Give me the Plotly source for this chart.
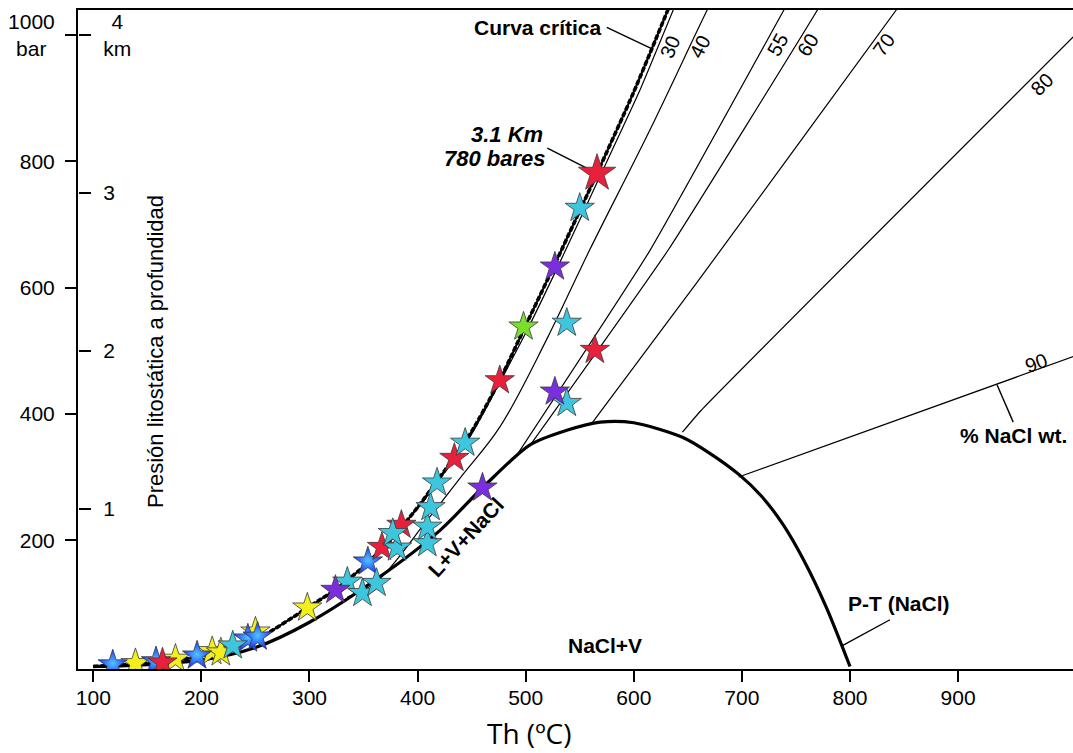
import plotly.graph_objects as go

# --- curves (Th in ºC, P in bar) ---
crit_t = [100, 150, 200, 250, 300, 325, 350, 375, 400, 425, 450, 475, 500, 530, 566, 600, 640]
crit_p = [0, 5, 16, 42, 95, 123, 158, 200, 252, 310, 372, 450, 540, 648, 781, 910, 1075]

iso30_t = [350, 400, 450, 500, 530, 570, 605, 645]
iso30_p = [158, 250, 368, 528, 634, 781, 910, 1075]
iso40_t = [335, 362, 409, 440, 476, 520, 559, 615, 668, 680]
iso40_p = [110, 134, 232, 300, 379, 520, 659, 850, 1040, 1080]
iso55_t = [490, 615, 739, 752]
iso55_p = [330, 659, 1040, 1080]
iso60_t = [504, 632, 770, 783]
iso60_p = [350, 660, 1040, 1080]
iso70_t = [562, 658, 843, 860]
iso70_p = [387, 607, 1040, 1080]
iso80_t = [645, 662, 1010]
iso80_p = [371, 405, 1003]
iso90_t = [697, 1020]
iso90_p = [300, 499]

# L+V+NaCl curve and the NaCl+V dome down to halite melting
lvh_t = [100, 150, 200, 250, 300, 365, 421, 460, 504, 538, 569, 600, 645, 670, 698, 718, 738, 757, 778, 800]
lvh_p = [0, 3, 10, 30, 70, 142, 216, 283, 351, 374, 387, 386, 363, 338, 303, 270, 225, 169, 94, 0]

# --- fluid inclusion data (stars) ---
star_t = [139, 176, 210, 218, 250, 118, 158, 196, 243, 252, 164, 229,
          298, 324, 335, 349, 362, 354, 367, 381, 377, 385, 409, 409, 412, 418,
          460, 434, 444, 476, 527, 498, 538, 564, 527, 538, 550]
star_p = [5, 12, 24, 22, 55, 3, 8, 17, 44, 47, 6, 33,
          93, 121, 134, 116, 132, 166, 189, 188, 211, 224, 195, 221, 252, 291,
          283, 330, 354, 453, 633, 538, 544, 501, 435, 417, 726]
star_kind = ['yellow', 'yellow', 'yellow', 'yellow', 'yellow', 'blue', 'blue', 'blue', 'blue', 'blue', 'red', 'cyan',
             'yellow', 'purple', 'cyan', 'cyan', 'cyan', 'blue', 'red', 'cyan', 'cyan', 'red', 'cyan', 'cyan', 'cyan', 'cyan',
             'purple', 'red', 'cyan', 'red', 'purple', 'green', 'cyan', 'red', 'purple', 'cyan', 'cyan']
key_t = [566]
key_p = [781]

bar_ticks = [200, 400, 600, 800, 1000]
bar_text = ['200', '400', '600', '800', '1000<br>bar\u2009\u2009']
km_ticks = [250, 500, 750, 1000]
km_text = ['1', '2', '3', '\u2009\u20094<br>km']
th_ticks = [100, 200, 300, 400, 500, 600, 700, 800, 900]

colors = {
    'red': '#e8203c', 'cyan': '#3ec6de', 'purple': '#7a2ee0',
    'yellow': '#f2ef1c', 'green': '#7ade2c', 'blue': '#1a34ff',
}

FONT = 'Liberation Sans, Arial, sans-serif'

fig = go.Figure()


def add_line(t, p, width, dash='solid', smoothing=0.6):
    fig.add_trace(go.Scatter(x=t, y=p, mode='lines', showlegend=False,
                             hoverinfo='skip',
                             line=dict(color='black', width=width, dash=dash,
                                       shape='spline', smoothing=smoothing)))


for t, p in [(iso30_t, iso30_p), (iso55_t, iso55_p), (iso60_t, iso60_p),
             (iso70_t, iso70_p), (iso80_t, iso80_p), (iso90_t, iso90_p)]:
    add_line(t, p, 1.2, smoothing=0.4)
add_line(iso40_t, iso40_p, 1.2, smoothing=1.0)
add_line(lvh_t, lvh_p, 3.2, smoothing=0.8)
add_line(crit_t, crit_p, 2.2)
add_line(crit_t, crit_p, 3.6, dash='5px,2px')

for kind in ['yellow', 'blue', 'red', 'cyan', 'purple', 'green']:
    xs = [t for t, k in zip(star_t, star_kind) if k == kind]
    ys = [p for p, k in zip(star_p, star_kind) if k == kind]
    marker = dict(symbol='star', size=22, color=colors[kind],
                  line=dict(color='#3a3a3a', width=0.8))
    if kind == 'blue':
        marker['gradient'] = dict(type='radial', color='#52c4ff')
    fig.add_trace(go.Scatter(x=xs, y=ys, mode='markers', marker=marker,
                             showlegend=False, hoverinfo='skip'))

fig.add_trace(go.Scatter(x=key_t, y=key_p, mode='markers', showlegend=False,
                         hoverinfo='skip',
                         marker=dict(symbol='star', size=28, color=colors['red'],
                                     line=dict(color='#3a3a3a', width=0.8))))

# invisible trace so the km axis is drawn
fig.add_trace(go.Scatter(x=[None], y=[None], yaxis='y2', showlegend=False,
                         hoverinfo='skip'))

annotations = []
# salinity labels along the lines
for txt, t, p, ang in [('30', 633.5, 981, -67), ('40', 661, 981, -63),
                       ('55', 733, 984, -61), ('60', 761, 984, -58),
                       ('70', 831, 984, -54), ('80', 978, 922, -45),
                       ('90', 972, 481, -20)]:
    annotations.append(dict(x=t, y=p, xref='x', yref='y', text=txt,
                            showarrow=False, textangle=ang,
                            xanchor='center', yanchor='middle',
                            font=dict(family=FONT, size=20, color='black')))

bold = dict(family=FONT, size=21, color='black')
bold_it = dict(family=FONT, size=22, color='black')
labels = [
    dict(x=511, y=1012, text='<b>Curva crítica</b>', font=bold),
    dict(x=518, y=842, text='<b><i>3.1 Km</i></b>', xanchor='right', font=bold_it),
    dict(x=520.5, y=805, text='<b><i>780 bares</i></b>', xanchor='right', font=bold_it),
    dict(x=845, y=99, text='<b>P-T (NaCl)</b>', font=bold),
    dict(x=951, y=365, text='<b>% NaCl wt.</b>', font=bold),
    dict(x=444, y=205, text='<b>L+V+NaCl</b>', textangle=-47, font=bold),
    dict(x=573, y=33, text='<b>NaCl+V</b>', font=bold),
]
for a in labels:
    a.setdefault('xanchor', 'center')
    a.update(xref='x', yref='y', yanchor='middle', showarrow=False)
annotations += labels
annotations += [
    dict(x=0.0774, y=498, xref='paper', yref='y', xanchor='center', yanchor='middle',
         text='Presión litostática a profundidad', showarrow=False, textangle=-90,
         font=dict(family=FONT, size=22, color='black')),
    dict(x=0.4533, y=-0.097, xref='paper', yref='paper', xanchor='center',
         yanchor='middle', text='Th (ºC)', showarrow=False,
         font=dict(family='Open Sans, sans-serif', size=28, color='black')),
]

# leader lines from the labels
leaders = [((575, 1012), (616, 979)), ((520, 821), (566, 781)),
           ((837, 74), (793, 33)), ((951, 387), (936, 446))]
shapes = [dict(type='line', xref='x', yref='y', x0=a[0], y0=a[1], x1=b[0], y1=b[1],
               line=dict(color='black', width=1.4), layer='below')
          for a, b in leaders]

fig.update_layout(
    width=1073, height=753,
    margin=dict(l=78, r=0, t=10, b=84, autoexpand=False),
    paper_bgcolor='white', plot_bgcolor='white',
    showlegend=False,
    annotations=annotations,
    shapes=shapes,
    xaxis=dict(range=[85.85, 1006.3], tickvals=th_ticks, ticks='outside',
               ticklen=11, tickwidth=1.5, tickcolor='black',
               showline=True, linewidth=2, linecolor='black', mirror=True,
               showgrid=False, zeroline=False, automargin=False,
               ticklabelstandoff=-2,
               tickfont=dict(family=FONT, size=21, color='black')),
    yaxis=dict(range=[-4, 1039.6], tickvals=bar_ticks, ticktext=bar_text,
               ticks='outside', ticklen=11, tickwidth=1.5, tickcolor='black',
               showline=True, linewidth=2, linecolor='black',
               showgrid=False, zeroline=False, ticklabelstandoff=6,
               automargin=False,
               tickfont=dict(family=FONT, size=21, color='black')),
    yaxis2=dict(range=[-4, 1039.6], overlaying='y', side='right',
                anchor='free', position=0,
                tickvals=km_ticks, ticktext=km_text, ticks='outside',
                ticklen=12, tickwidth=1.5, tickcolor='black',
                showline=False, showgrid=False, zeroline=False,
                ticklabelstandoff=8, automargin=False,
                tickfont=dict(family=FONT, size=21, color='black')),
)

# the page keeps the figure flush with the window corner
fig.write_html("out.html", config={'displayModeBar': False},
               post_script="document.body.style.margin='0';"
                           "document.body.style.overflow='hidden';")
